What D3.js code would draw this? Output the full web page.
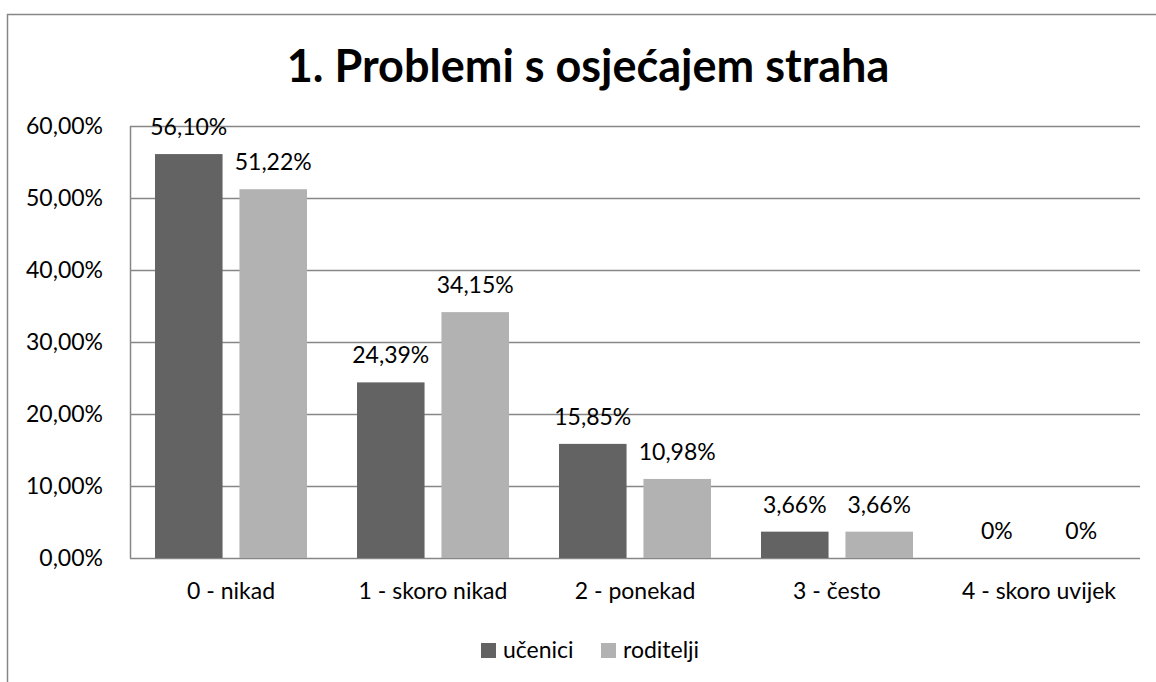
<!DOCTYPE html>
<html><head><meta charset="utf-8">
<script src="https://cdn.jsdelivr.net/npm/d3@7"></script>
<style>body{margin:0;background:#fff}svg{display:block}</style>
</head><body><svg id="c" width="1156" height="682"></svg>
<script>
const title = "1. Problemi s osjećajem straha";
const categories = ["0 - nikad","1 - skoro nikad","2 - ponekad","3 - često","4 - skoro uvijek"];
const seriesNames = ["učenici","roditelji"];
const ucenici = [56.10, 24.39, 15.85, 3.66, 0];
const roditelji = [51.22, 34.15, 10.98, 3.66, 0];
const labelsUcenici = ["56,10%","24,39%","15,85%","3,66%","0%"];
const labelsRoditelji = ["51,22%","34,15%","10,98%","3,66%","0%"];
const yTicks = [0,10,20,30,40,50,60];
const yTickLabels = ["0,00%","10,00%","20,00%","30,00%","40,00%","50,00%","60,00%"];
const colors = ["#636363","#b2b2b2"];

const font = "Lato, 'Open Sans', sans-serif";
const fs = 23;
const svg = d3.select("#c");
const L=130, R=1140, T=126, B=558;

svg.append("path").attr("d","M7.5,690 V14.5 H1160").attr("fill","none").attr("stroke","#868686").attr("stroke-width",1.5);

svg.append("text").attr("x",588).attr("y",82).attr("text-anchor","middle")
  .attr("font-family",font).attr("font-weight","bold").attr("font-size",45).attr("fill","#000").text(title);

const y = d3.scaleLinear().domain([0,60]).range([B,T]);
const x0 = d3.scaleBand().domain(categories).range([L,R]).paddingInner(0).paddingOuter(0);
const x1 = d3.scaleBand().domain(seriesNames).range([25, x0.bandwidth()-25]).paddingInner(0.2).paddingOuter(0);

const g = svg.append("g");
g.selectAll("line.grid").data(yTicks).join("line").attr("class","grid")
  .attr("x1",L).attr("x2",R).attr("y1",d=>Math.round(y(d))+0.5).attr("y2",d=>Math.round(y(d))+0.5)
  .attr("stroke","#868686").attr("stroke-width",1.5);
g.append("line").attr("x1",L+0.5).attr("x2",L+0.5).attr("y1",T).attr("y2",B).attr("stroke","#868686").attr("stroke-width",1.5);

const yAxis = d3.axisLeft(y).tickValues(yTicks).tickFormat((d,i)=>yTickLabels[i]).tickSize(0).tickPadding(27);
const ya = svg.append("g").attr("transform",`translate(${L},0)`).call(yAxis);
ya.select(".domain").remove();
ya.selectAll("text").attr("font-family",font).attr("font-size",fs).attr("fill","#000");

const xAxis = d3.axisBottom(x0).tickSize(0).tickPadding(25);
const xa = svg.append("g").attr("transform",`translate(0,${B})`).call(xAxis);
xa.select(".domain").remove();
xa.selectAll("text").attr("font-family",font).attr("font-size",fs).attr("fill","#000");

const series = [ucenici, roditelji];
const labels = [labelsUcenici, labelsRoditelji];
series.forEach((vals,si)=>{
  const gg = svg.append("g");
  gg.selectAll("rect").data(vals).join("rect")
    .attr("x",(d,i)=>x0(categories[i])+x1(seriesNames[si]))
    .attr("y",d=>y(d)).attr("width",x1.bandwidth()).attr("height",d=>y(0)-y(d))
    .attr("fill",colors[si]);
  gg.selectAll("text").data(vals).join("text")
    .attr("x",(d,i)=>x0(categories[i])+x1(seriesNames[si])+x1.bandwidth()/2)
    .attr("y",d=>y(d)-19).attr("text-anchor","middle")
    .attr("font-family",font).attr("font-size",fs).attr("fill","#000")
    .text((d,i)=>labels[si][i]);
});

const leg = svg.append("g");
const legX = [481, 601];
seriesNames.forEach((n,i)=>{
  leg.append("rect").attr("x",legX[i]).attr("y",643).attr("width",15).attr("height",15).attr("fill",colors[i]);
  leg.append("text").attr("x",legX[i]+22).attr("y",658).attr("font-family",font).attr("font-size",fs).attr("fill","#000").text(n);
});
</script></body></html>
